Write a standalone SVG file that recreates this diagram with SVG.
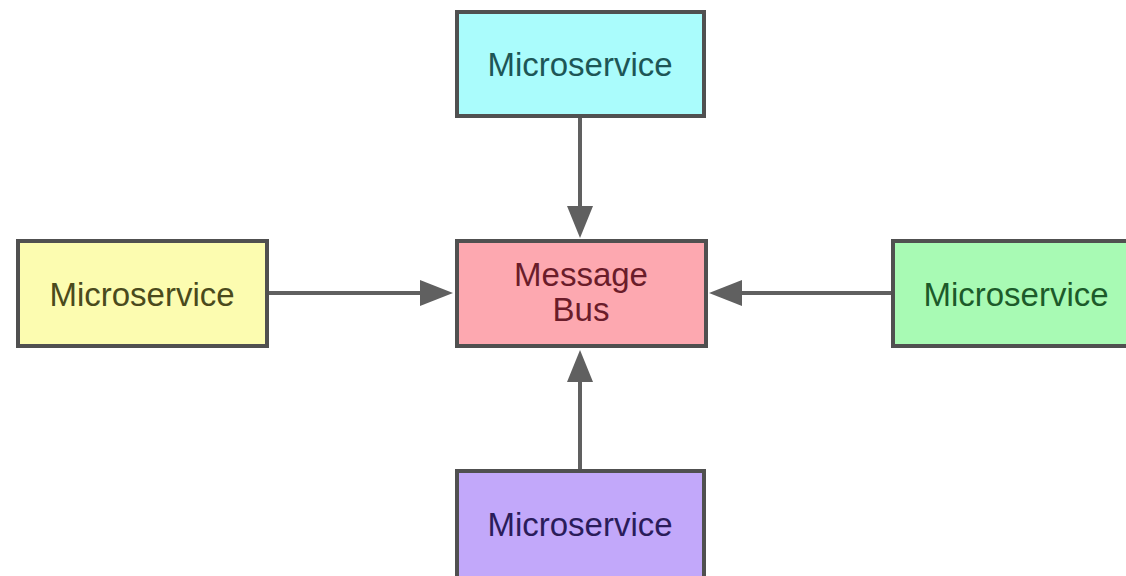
<svg xmlns="http://www.w3.org/2000/svg" width="1126" height="576" viewBox="0 0 1126 576">
  <style>
    .box { stroke: #505050; stroke-width: 4; }
    .lbl { font-family: "Liberation Sans", Arial, sans-serif; font-size: 33px; text-anchor: middle; }
    .conn { stroke: #606060; stroke-width: 4; fill: none; }
    .head { fill: #606060; }
  </style>
  <rect width="1126" height="576" fill="#ffffff"/>

  <g id="connectors">
    <!-- top service to bus -->
    <line class="conn" x1="580" y1="117" x2="580" y2="210"/>
    <polygon class="head" points="567,206 593,206 580,238"/>
    <!-- left service to bus -->
    <line class="conn" x1="268" y1="293" x2="425" y2="293"/>
    <polygon class="head" points="420,280 420,306 453,293"/>
    <!-- right service to bus -->
    <line class="conn" x1="892" y1="293" x2="735" y2="293"/>
    <polygon class="head" points="742,280 742,306 709,293"/>
    <!-- bottom service to bus -->
    <line class="conn" x1="580" y1="470" x2="580" y2="378"/>
    <polygon class="head" points="567,382 593,382 580,350"/>
  </g>

  <g id="svc-top">
    <rect class="box" x="457" y="12" width="247" height="104" fill="#aafcfc"/>
    <text class="lbl" x="580" y="76" fill="#1d5656">Microservice</text>
  </g>

  <g id="svc-left">
    <rect class="box" x="18" y="241" width="249" height="105" fill="#fcfcb0"/>
    <text class="lbl" x="142" y="306" fill="#4a4a1c">Microservice</text>
  </g>

  <g id="bus">
    <rect class="box" x="457" y="241" width="249" height="105" fill="#fda8b0"/>
    <text class="lbl" x="581" y="286" fill="#6a1c2a">Message</text>
    <text class="lbl" x="581" y="321" fill="#6a1c2a">Bus</text>
  </g>

  <g id="svc-right">
    <rect class="box" x="893" y="241" width="249" height="105" fill="#a8fab4"/>
    <text class="lbl" x="1016" y="306" fill="#1c5a2a">Microservice</text>
  </g>

  <g id="svc-bottom">
    <rect class="box" x="457" y="471" width="247" height="110" fill="#c2a8fa"/>
    <text class="lbl" x="580" y="536" fill="#2a1c5a">Microservice</text>
  </g>
</svg>
